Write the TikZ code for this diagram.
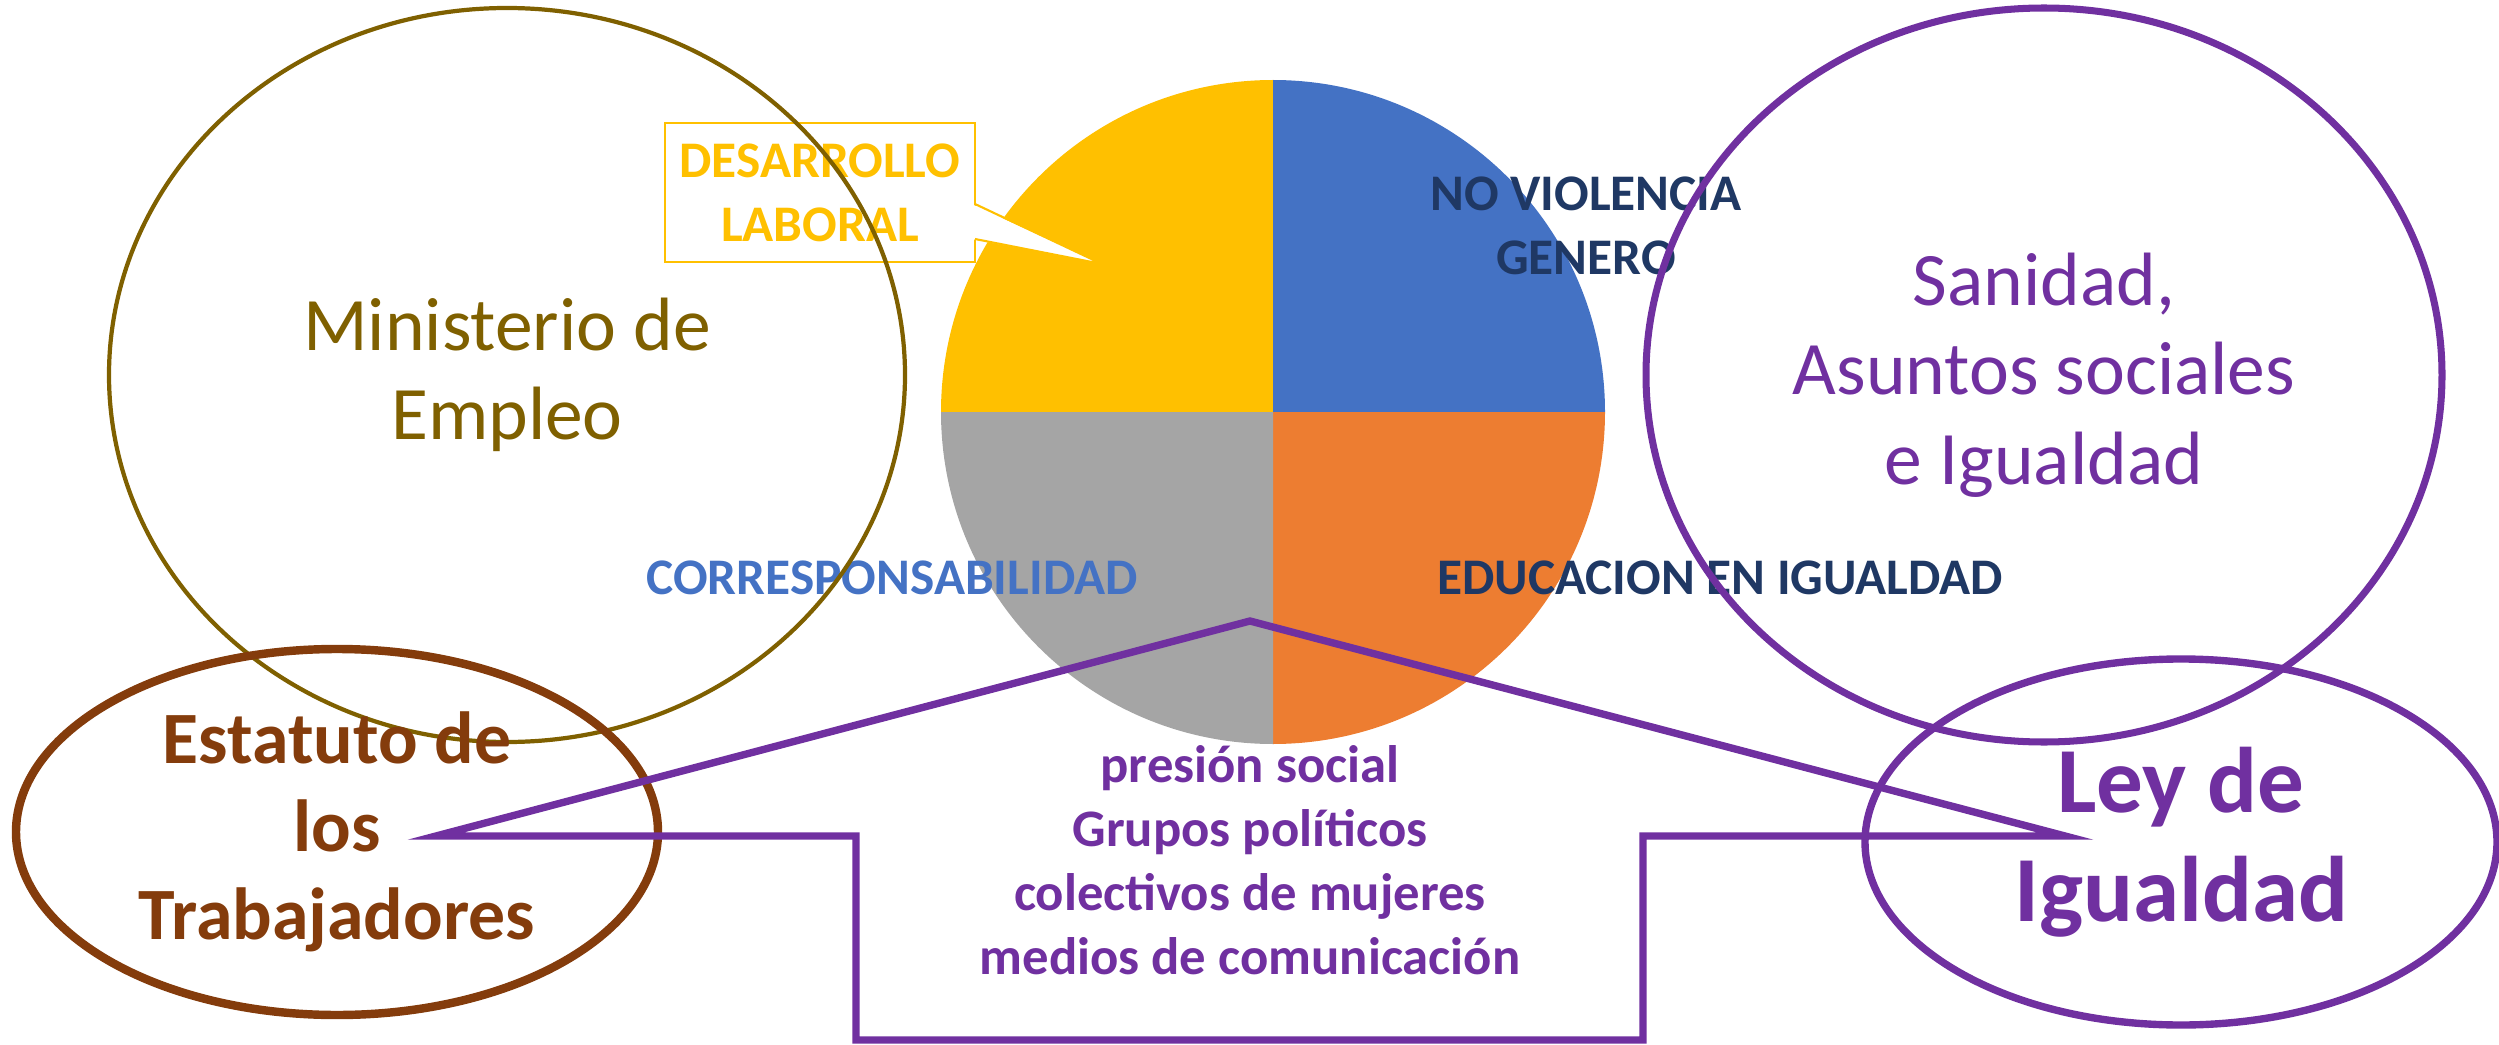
\documentclass[tikz,border=0pt]{standalone}
\usepackage{fontspec}
\setmainfont{Carlito}
\usepackage{tikz}
\usetikzlibrary{shapes.geometric}
\definecolor{Olive}  {HTML}{7F6000}
\definecolor{Rust}   {HTML}{843C0C}
\definecolor{Purple} {HTML}{7030A0}
\definecolor{Navy}   {HTML}{1F3864}
\definecolor{Gold}   {HTML}{FFC000}
\definecolor{Blue}   {HTML}{4472C4}
\definecolor{Orange} {HTML}{ED7D31}
\definecolor{Grey}   {HTML}{A5A5A5}

\begin{document}
\begin{tikzpicture}[
  every node/.style={align=center, inner sep=0pt},
  ministry/.style = {ellipse, draw=#1, text=#1, line width=1.2pt,
                     minimum width=7.96cm, minimum height=7.34cm,
                     font=\fontsize{21.5}{25.5}\selectfont},
  lawbox/.style   = {ellipse, draw=#1, text=#1, line width=2.1pt,
                     font=\bfseries},
  slice/.style    = {font=\bfseries\fontsize{14.6}{18.2}\selectfont},
  link/.style     = {draw=Purple, line width=2.1pt},
]
\useasboundingbox (0,0) rectangle (24.99,10.44);
% pie
\coordinate (pc) at (12.73,6.32);
\foreach \a/\c in {90/Gold, 0/Blue, 270/Orange, 180/Grey}{
  \fill[\c] (pc) -- ++(\a:3.32) arc[start angle=\a, delta angle=90, radius=3.32] -- cycle;
}
\node[slice, text=Navy] (noviol) at (15.86,8.18) {NO VIOLENCIA\\GENERO};
\node[slice, text=Blue] (corresp) at (8.92,4.66) {CORRESPONSABILIDAD};
\node[slice, text=Navy] (educ) at (17.20,4.66) {EDUCACION EN IGUALDAD};
% callout
\coordinate (pb1) at (9.75,8.40);
\coordinate (pb2) at (9.75,8.05);
\coordinate (ptip) at (11.02,7.80);
\node[slice, text=Gold, draw=Gold, fill=white, line width=0.6pt,
      minimum width=3.10cm, minimum height=1.39cm] (desarr) at (8.20,8.515) {DESARROLLO\\LABORAL};
\fill[white] ([xshift=-1pt]pb1) -- (ptip) -- ([xshift=-1pt]pb2) -- cycle;
\draw[Gold, line width=0.6pt] (pb1) -- (ptip) -- (pb2);
% ministries and laws
\node[ministry=Olive]  (minist) at (5.07,6.69)  {Ministerio de\\Empleo};
\node[ministry=Purple, line width=2pt] (sanid) at (20.44,6.69) {Sanidad,\\Asuntos sociales\\e Igualdad};
\node[lawbox=Rust, line width=2.4pt, minimum width=6.42cm, minimum height=3.66cm,
      font=\bfseries\fontsize{21}{25}\selectfont] (estat) at (3.37,2.12) {Estatuto de\\los\\Trabajadores};
\node[lawbox=Purple, minimum width=6.32cm, minimum height=3.66cm,
      font=\bfseries\fontsize{26.5}{31}\selectfont] (ley) at (21.81,2.02) {Ley de\\Igualdad};
% pressure
\coordinate (tipL) at (4.36,2.08);
\coordinate (apex) at (12.50,4.23);
\coordinate (tipR) at (20.65,2.08);
\draw[link] (tipL) -- (apex) -- (tipR) -- (16.43,2.08) -- (16.43,0.04)
            -- (8.56,0.04) -- (8.56,2.08) -- cycle;
\node[text=Purple, font=\bfseries\fontsize{15}{18.2}\selectfont] (presion) at (12.50,1.84)
  {presión social\\Grupos políticos\\colectivos de mujeres\\medios de comunicación};
\end{tikzpicture}
\end{document}
